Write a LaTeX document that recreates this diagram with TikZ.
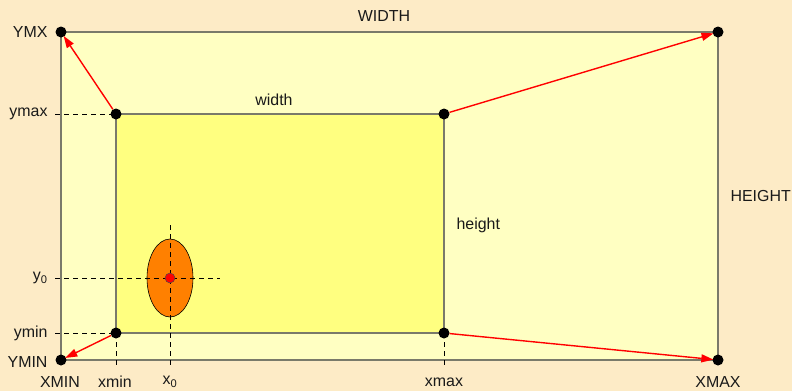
\documentclass[tikz,border=0pt]{standalone}
\usepackage{fontspec}
\setmainfont{Liberation Sans}
\usepackage{tikz}
\usetikzlibrary{arrows.meta, positioning, shapes.geometric}
\usepackage{xcolor}

\definecolor{bgbeige}{HTML}{FDEBC6}
\definecolor{outerfill}{HTML}{FFFFC2}
\definecolor{innerfill}{HTML}{FFFF80}
\definecolor{framegray}{HTML}{7A7A6A}
\definecolor{blobfill}{HTML}{FF8000}

\begin{document}
\begin{tikzpicture}[x=1bp, y=-1bp,
    every node/.style={font=\fontsize{16}{18}\selectfont, text=black!90},
    dot/.style={circle, fill=black, inner sep=0pt, minimum size=11bp},
    frame/.style={draw=framegray, line width=1.1bp},
    guide/.style={black, dashed, dash pattern=on 5bp off 4bp, line width=0.6bp},
    moveto/.style={-{Triangle[length=12bp, width=8bp]}, red, line width=1.4bp, shorten >=-1bp}]

    % --- background and the two windows ---
    \fill[bgbeige] (0,0) rectangle (792,391);
    \useasboundingbox (0,0) rectangle (792,391);
    \draw[frame, fill=outerfill] (61,32) rectangle (718,360);
    \draw[frame, fill=innerfill] (116,114) rectangle (444,333);

    % --- guide lines ---
    \coordinate (ymaxtick) at (55,114);
    \coordinate (ymintick) at (55,333);
    \coordinate (xmintick) at (116,365);
    \coordinate (xmaxtick) at (444,365);
    \coordinate (yzeroL) at (55,278);
    \coordinate (yzeroR) at (220,278);
    \coordinate (xzeroT) at (170,225);
    \coordinate (xzeroB) at (170,365);

    % --- corner points ---
    \node[dot] (YMX) at (61,32) {};
    \node[dot] (XYMAX) at (718,32) {};
    \node[dot] (YMIN) at (61,360) {};
    \node[dot] (XMAX) at (718,360) {};
    \node[dot] (tl) at (116,114) {};
    \node[dot] (tr) at (444,114) {};
    \node[dot] (bl) at (116,333) {};
    \node[dot] (br) at (444,333) {};

    \draw[guide] (ymaxtick) -- (tl.center);
    \draw[guide] (ymintick) -- (bl.center);
    \draw[guide] (bl.center) -- (xmintick);
    \draw[guide] (br.center) -- (xmaxtick);

    % --- the object ---
    \node[ellipse, draw=black, line width=0.6bp, fill=blobfill, minimum width=46bp, minimum height=78bp, inner sep=0pt] (blob) at (170,278) {};
    \draw[guide] (yzeroL) -- (yzeroR);
    \draw[guide] (xzeroT) -- (xzeroB);
    \node[circle, draw=black!70, line width=0.5bp, fill=red, inner sep=0pt, minimum size=10bp] (origin) at (170,278) {};

    % --- mapping arrows ---
    \draw[moveto] (tl) -- (YMX);
    \draw[moveto] (tr) -- (XYMAX);
    \draw[moveto] (bl) -- (YMIN);
    \draw[moveto] (br) -- (XMAX);

    % --- labels ---
    \node[anchor=east] (lYMX) at (51,32) {YMX};
    \node[anchor=east] (lymax) at (51,114) {ymax};
    \node[anchor=east] (ly0) at (51,278) {y$_{\mathrm{0}}$};
    \node[anchor=east] (lymin) at (51,333) {ymin};
    \node[anchor=east] (lYMIN) at (51,362) {YMIN};
    \node (lXMIN) at (60,382) {XMIN};
    \node (lxmin) at (115,382) {xmin};
    \node (lx0) at (170,382) {x$_{\mathrm{0}}$};
    \node (lxmax) at (444,382) {xmax};
    \node (lXMAX) at (718,382) {XMAX};
    \node (lWIDTH) at (384,16) {WIDTH};
    \node (lwidth) at (274,100) {width};
    \node[anchor=west] (lheight) at (453,225) {height};
    \node[anchor=west] (lHEIGHT) at (727,196) {HEIGHT};

\end{tikzpicture}
\end{document}
